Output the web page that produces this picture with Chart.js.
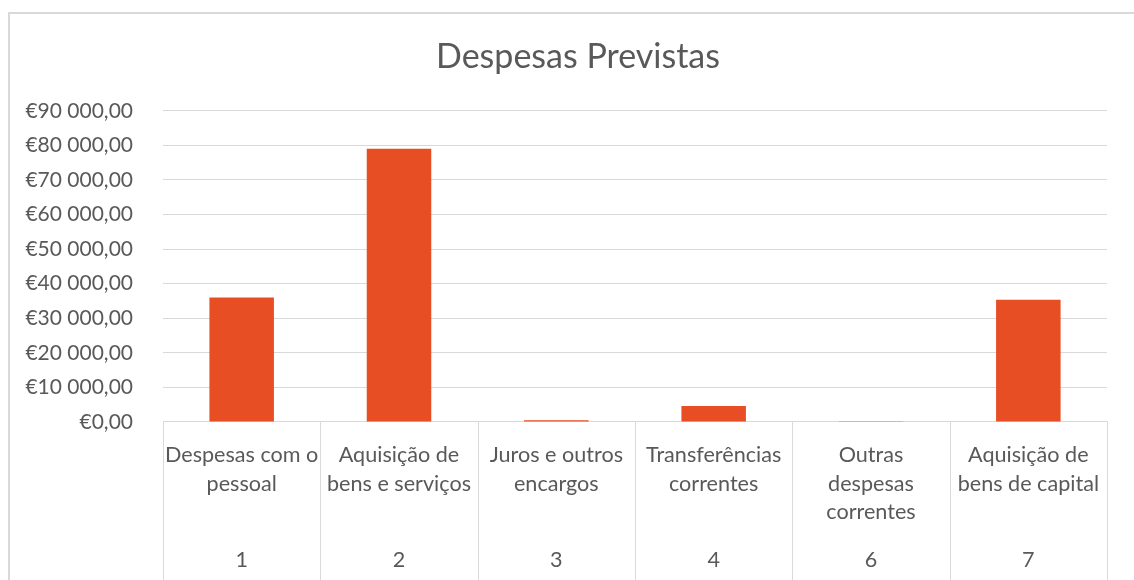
<!DOCTYPE html>
<html>
<head>
<meta charset="utf-8">
<title>Despesas Previstas</title>
<script src="https://cdn.jsdelivr.net/npm/chart.js@4/dist/chart.umd.min.js"></script>
<style>
  html, body { margin: 0; padding: 0; background: #fff; overflow: hidden; }
  #wrap { position: relative; width: 1134px; height: 580px; }
  #frame {
    position: absolute; left: 8px; top: 12px; width: 1200px; height: 700px;
    border-left: 2px solid #d9d9d9; border-top: 2px solid #d9d9d9;
    pointer-events: none;
  }
  canvas { position: absolute; left: 0; top: 0; }
</style>
</head>
<body>
<div id="wrap">
  <canvas id="despesasChart" width="1134" height="580"></canvas>
  <div id="frame"></div>
</div>
<script>
// Category names (wrapped like in the sheet) and their economic codes
var categories = [
  ['Despesas com o', 'pessoal'],
  ['Aquisição de', 'bens e serviços'],
  ['Juros e outros', 'encargos'],
  ['Transferências', 'correntes'],
  ['Outras', 'despesas', 'correntes'],
  ['Aquisição de', 'bens de capital']
];
var codes = ['1', '2', '3', '4', '6', '7'];

// Expected expenses (EUR)
var despesas = [36000, 79000, 500, 4600, 180, 35300];

var yMax = 90000;
var yStep = 10000;

var GREY = '#595959';
var GRID = '#d9d9d9';
var FONT = 'Lato, "Open Sans", sans-serif';

function euro(v) {
    var parts = v.toFixed(2).split('.');
    var int = parts[0].replace(/\B(?=(\d{3})+(?!\d))/g, ' ');
    return '€' + int + ',' + parts[1];
}

// vertical separators between categories, below the axis (Excel multi-level look)
var categoryDividers = {
    id: 'categoryDividers',
    afterDraw: function (chart) {
        var xs = chart.scales.x;
        var area = chart.chartArea;
        var ctx = chart.ctx;
        var n = categories.length;
        ctx.save();
        ctx.strokeStyle = GRID;
        ctx.lineWidth = 1;
        for (var i = 0; i <= n; i++) {
            var x;
            if (i === 0) x = area.left;
            else if (i === n) x = area.right;
            else x = (xs.getPixelForValue(i - 1) + xs.getPixelForValue(i)) / 2;
            x = Math.round(x) + 0.5;
            ctx.beginPath();
            ctx.moveTo(x, area.bottom);
            ctx.lineTo(x, chart.height);
            ctx.stroke();
        }
        ctx.restore();
    }
};

document.addEventListener("DOMContentLoaded", function () {
    var ctx = document.getElementById('despesasChart').getContext('2d');
    var chart = new Chart(ctx, {
        type: 'bar',
        data: {
            labels: categories,
            datasets: [{
                label: 'Despesas Previstas',
                data: despesas,
                backgroundColor: '#E84E23',
                categoryPercentage: 1.0,
                barPercentage: 0.41,
                xAxisID: 'x',
                yAxisID: 'y'
            }]
        },
        options: {
            responsive: false,
            animation: false,
            layout: { padding: { left: 22, right: 0, top: 0, bottom: 5 } },
            plugins: {
                legend: { display: false },
                tooltip: { enabled: false },
                title: {
                    display: true,
                    text: 'Despesas Previstas',
                    color: GREY,
                    font: { family: FONT, size: 34, weight: 'normal', lineHeight: 1.2 },
                    padding: { top: 37, bottom: 33 }
                }
            },
            scales: {
                x: {
                    type: 'category',
                    position: 'bottom',
                    offset: true,
                    grid: { display: false, drawTicks: false },
                    border: { display: true, color: GRID, width: 1 },
                    ticks: {
                        color: GREY,
                        font: { family: FONT, size: 21.6, lineHeight: 1.33 },
                        padding: 18.6,
                        maxRotation: 0,
                        autoSkip: false
                    }
                },
                x2: {
                    type: 'category',
                    position: 'bottom',
                    labels: codes,
                    offset: true,
                    grid: { display: false, drawTicks: false },
                    border: { display: false },
                    ticks: {
                        color: GREY,
                        font: { family: FONT, size: 21.6, lineHeight: 1.33 },
                        padding: 0.5,
                        maxRotation: 0,
                        autoSkip: false
                    }
                },
                y: {
                    min: 0,
                    max: yMax,
                    afterFit: function (scale) { scale.width = 141; },
                    grid: { color: GRID, lineWidth: 1, drawTicks: false },
                    border: { display: false },
                    ticks: {
                        stepSize: yStep,
                        color: GREY,
                        padding: 30,
                        font: { family: FONT, size: 21 },
                        callback: function (v) { return euro(v); }
                    }
                },
                // empty right-hand margin so the title sits where Excel centred it
                yRight: {
                    position: 'right',
                    display: true,
                    grid: { display: false, drawTicks: false },
                    border: { display: false },
                    ticks: { display: false },
                    afterFit: function (scale) { scale.width = 27; }
                }
            }
        },
        plugins: [categoryDividers]
    });
});
</script>
</body>
</html>
